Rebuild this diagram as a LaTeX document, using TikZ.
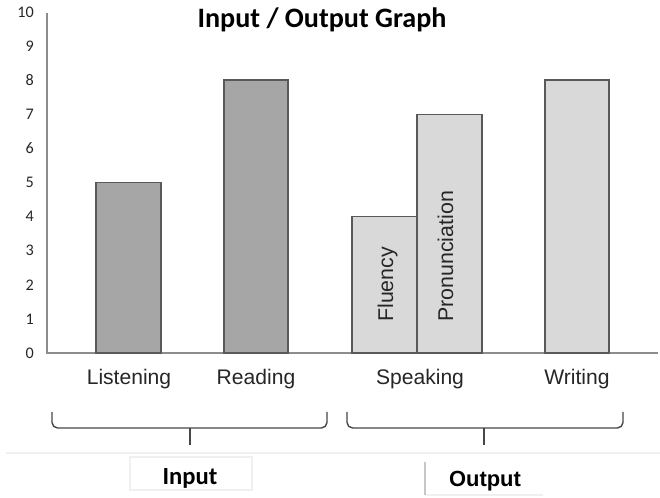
\documentclass[tikz,border=0pt]{standalone}
\usepackage{fontspec}
\setmainfont{Liberation Sans}
\newfontfamily\calfont{Carlito}
\usepackage{tikz}
\usetikzlibrary{calc}

\definecolor{bardark}{HTML}{A6A6A6}
\definecolor{barlight}{HTML}{D9D9D9}
\definecolor{barline}{HTML}{595959}
\definecolor{axisgray}{HTML}{8C8C8C}
\definecolor{textgray}{HTML}{262626}

\begin{document}
\begin{tikzpicture}[x=0.025cm,y=-0.025cm,
    inbar/.style={fill=bardark, draw=barline, line width=1pt},
    outbar/.style={fill=barlight, draw=barline, line width=1pt},
    ticklabel/.style={anchor=east, inner sep=0pt, text=textgray, font=\calfont\fontsize{11.5}{13}\selectfont},
    catlabel/.style={anchor=base, inner sep=0pt, text=textgray, font=\fontsize{15}{17}\selectfont},
    barlabel/.style={rotate=90, anchor=base west, inner sep=0pt, text=textgray, font=\fontsize{15.2}{17}\selectfont},
    bracket/.style={draw=textgray!85, line width=1pt},
  ]
        \useasboundingbox (0,0) rectangle (660,498);

        % title
        \node[anchor=base, inner sep=0pt, font=\calfont\bfseries\fontsize{20}{24}\selectfont] (title) at (322,28) {Input / Output Graph};

        % axes and scale, one unit = 34.1
        \draw[axisgray, line width=1.2pt] (47,13) -- (47,353) -- (658,353);
        \foreach \v in {0,...,10}
            \node[ticklabel] (tick\v) at (34,353-34.1*\v) {\v};

        % input bars
        \draw[inbar] (96,353) rectangle (161,353-34.1*5);
        \draw[inbar] (224,353) rectangle (288,353-34.1*8);

        % output bars
        \draw[outbar] (352,353) rectangle (417,353-34.1*4);
        \draw[outbar] (417,353) rectangle (482,353-34.1*7);
        \draw[outbar] (545,353) rectangle (609,353-34.1*8);

        \node[barlabel] (fluency) at (393,322) {Fluency};
        \node[barlabel] (pron) at (453,322) {Pronunciation};

        % categories
        \node[catlabel] (listening) at (129,385) {Listening};
        \node[catlabel] (reading) at (256,385) {Reading};
        \node[catlabel] (speaking) at (420,385) {Speaking};
        \node[catlabel] (writing) at (577,385) {Writing};

        % brackets
        \coordinate (inL) at (52,412);
        \coordinate (inR) at (327,412);
        \coordinate (inTip) at (190,445);
        \coordinate (outL) at (347,412);
        \coordinate (outR) at (623,412);
        \coordinate (outTip) at (484,445);
        \draw[bracket, rounded corners=4pt] (inL) -- (inL |- 0,428) -- (inR |- 0,428) -- (inR);
        \draw[bracket] (inTip |- 0,428) -- (inTip);
        \draw[bracket, rounded corners=4pt] (outL) -- (outL |- 0,428) -- (outR |- 0,428) -- (outR);
        \draw[bracket] (outTip |- 0,428) -- (outTip);

        \draw[black!6, line width=1pt] (6,453) -- (660,453);

        % group names
        \draw[black!6, line width=0.8pt] (130,457) rectangle (252,490);
        \node[anchor=base, inner sep=0pt, font=\calfont\bfseries\fontsize{17.5}{20}\selectfont] (input) at (190,485) {Input};
        \draw[black!6, line width=0.8pt] (425,495) -- (543,495);
        \draw[black!22, line width=0.8pt] (425,462) -- (425,495);
        \node[anchor=base, inner sep=0pt, font=\bfseries\fontsize{15.6}{18}\selectfont] (output) at (485,487) {Output};
\end{tikzpicture}
\end{document}
